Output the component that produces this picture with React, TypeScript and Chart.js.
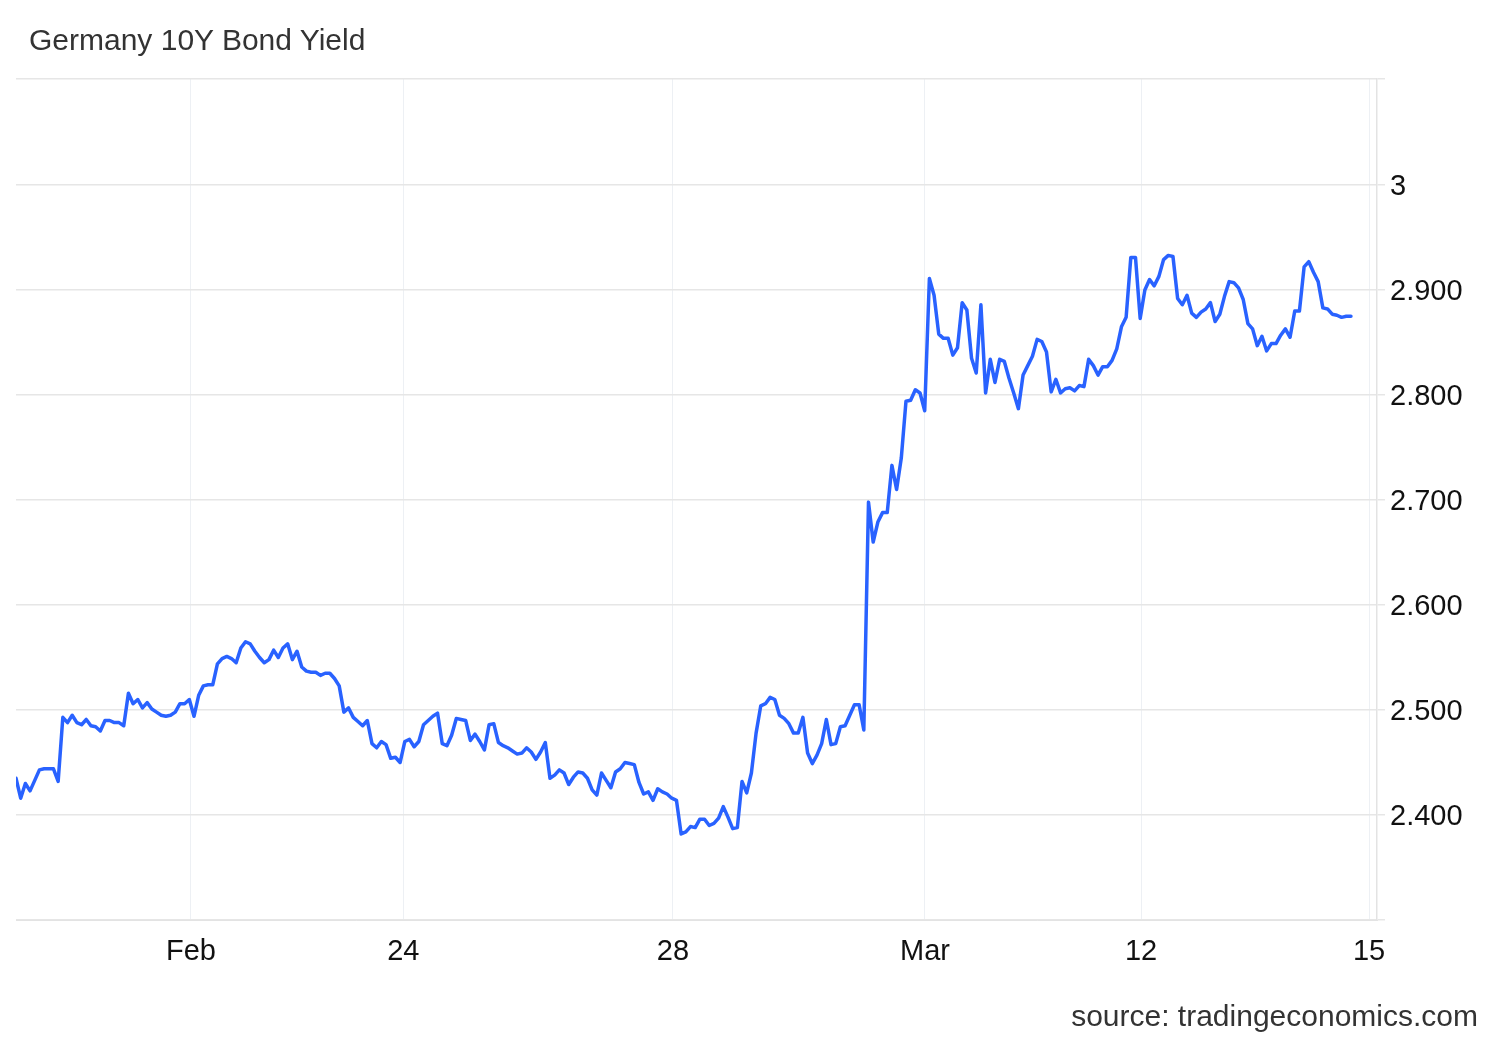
import React, { useEffect, useRef } from "react";
import { Chart, registerables } from "chart.js";

Chart.register(...registerables);

const titleText = "Germany 10Y Bond Yield";
const sourceText = "source: tradingeconomics.com";

// Yield samples (evenly spaced intraday observations), in percent
const yieldsLate = [
  2.435, 2.416, 2.430, 2.423, 2.433, 2.443, 2.444, 2.444, 2.444, 2.432,
  2.493, 2.488, 2.495, 2.488, 2.486, 2.491, 2.485, 2.484, 2.480, 2.490,
  2.490, 2.488, 2.488, 2.485, 2.516, 2.506, 2.510, 2.502, 2.507, 2.501,
  2.498, 2.495, 2.494, 2.495, 2.498, 2.506, 2.506, 2.510, 2.494, 2.514,
  2.523, 2.524, 2.524, 2.544, 2.549, 2.551, 2.549, 2.545, 2.559, 2.565,
  2.563, 2.556, 2.550, 2.545, 2.548, 2.557, 2.550, 2.559, 2.563, 2.548,
  2.556, 2.541, 2.537, 2.536, 2.536, 2.533, 2.535, 2.535, 2.530, 2.523,
  2.498, 2.502, 2.493, 2.489, 2.485, 2.490, 2.468, 2.464, 2.470, 2.467,
  2.454, 2.455, 2.450, 2.470, 2.472, 2.465, 2.470, 2.486, 2.490, 2.494,
  2.497, 2.468, 2.466, 2.476, 2.492, 2.491, 2.490, 2.471, 2.477, 2.470,
  2.462, 2.486, 2.487, 2.469, 2.466,
];

const yieldsMid = [
  2.464, 2.461, 2.458, 2.459, 2.464, 2.460, 2.453, 2.460, 2.469, 2.435,
  2.438, 2.443, 2.440, 2.429, 2.436, 2.441, 2.440, 2.435, 2.424, 2.419,
  2.440, 2.433, 2.426, 2.441, 2.444, 2.450, 2.449, 2.448, 2.431, 2.420,
  2.422, 2.414, 2.425, 2.422, 2.420, 2.416, 2.414, 2.382, 2.384, 2.389,
  2.388, 2.396, 2.396, 2.390, 2.392, 2.397, 2.408, 2.398, 2.387, 2.388,
  2.432, 2.421, 2.440, 2.478, 2.504, 2.506, 2.512, 2.510, 2.495, 2.492,
  2.487, 2.478, 2.478, 2.493, 2.459, 2.449, 2.457, 2.468, 2.491, 2.467,
  2.468, 2.484, 2.485, 2.495, 2.505, 2.505, 2.481,
];

const yieldsJump = [
  2.698, 2.660, 2.679, 2.688, 2.688, 2.733, 2.710, 2.740, 2.794, 2.795,
  2.805, 2.802, 2.785,
];

const yieldsRecent = [
  2.911, 2.895, 2.858, 2.854, 2.854, 2.838, 2.845, 2.888, 2.881, 2.835,
  2.821, 2.886, 2.802, 2.834, 2.812, 2.834, 2.832, 2.816, 2.802, 2.787,
  2.819, 2.828, 2.837, 2.853, 2.851, 2.841, 2.803, 2.815, 2.802, 2.806,
  2.807, 2.804, 2.809, 2.808, 2.834, 2.828, 2.819, 2.827, 2.827, 2.833,
  2.844, 2.865, 2.874, 2.931, 2.931, 2.873, 2.900, 2.910, 2.904, 2.913,
  2.929, 2.933, 2.932, 2.892, 2.886, 2.895, 2.878, 2.874, 2.879, 2.882,
  2.888, 2.870, 2.877, 2.894, 2.908, 2.907, 2.902, 2.891, 2.868, 2.863,
  2.847, 2.856, 2.842, 2.849, 2.849, 2.857, 2.863, 2.855, 2.880, 2.880,
  2.922, 2.927, 2.917, 2.908, 2.883, 2.882, 2.877, 2.876, 2.874, 2.875,
  2.875,
];

const yields = [...yieldsLate, ...yieldsMid, ...yieldsJump, ...yieldsRecent];

// x axis (sample index units)
const xTickPositions = [37.36, 82.69, 140.26, 194.06, 240.18, 288.86];
const xTickLabels = ["Feb", "24", "28", "Mar", "12", "15"];
const xMin = 0;
const xMax = 290.56;

// y axis
const yTickValues = [2.4, 2.5, 2.6, 2.7, 2.8, 2.9, 3.0];
const yTickLabels = ["2.400", "2.500", "2.600", "2.700", "2.800", "2.900", "3"];
const yMin = 2.3;
const yMax = 3.101;

const FONT = '"Liberation Sans", Arial, Helvetica, sans-serif';

export default function App() {
  const canvasRef = useRef<HTMLCanvasElement | null>(null);

  useEffect(() => {
    const canvas = canvasRef.current;
    if (!canvas) return;
    const chart = new Chart(canvas, {
      type: "line",
      data: {
        datasets: [
          {
            data: yields.map((v, i) => ({ x: i, y: v })),
            borderColor: "#2962ff",
            borderWidth: 3.5,
            pointRadius: 0,
            tension: 0,
            fill: false,
            borderJoinStyle: "round",
            borderCapStyle: "round",
          },
        ],
      },
      options: {
        animation: false,
        responsive: false,
        devicePixelRatio: 1,
        layout: { padding: { left: 16, top: 79, right: 0, bottom: 0 } },
        plugins: {
          legend: { display: false },
          tooltip: { enabled: false },
          title: { display: false },
        },
        scales: {
          x: {
            type: "linear",
            min: xMin,
            max: xMax,
            afterBuildTicks: (scale: any) => {
              scale.ticks = xTickPositions.map((v) => ({ value: v }));
            },
            afterFit: (scale: any) => {
              scale.height = 120;
            },
            grid: {
              color: "#edf0f4",
              lineWidth: 1,
              drawTicks: false,
            },
            border: { display: true, color: "#e3e3e3", width: 1 },
            ticks: {
              autoSkip: false,
              maxRotation: 0,
              padding: 15,
              color: "#111111",
              font: { family: FONT, size: 29 },
              callback: (_v: any, i: number) => xTickLabels[i],
            },
          },
          y: {
            type: "linear",
            position: "right",
            min: yMin,
            max: yMax,
            afterBuildTicks: (scale: any) => {
              scale.ticks = [yMin, ...yTickValues, yMax].map((v) => ({ value: v }));
            },
            afterFit: (scale: any) => {
              scale.width = 123;
            },
            grid: {
              color: "#e6e6e6",
              lineWidth: 1.5,
              drawTicks: true,
              tickLength: 8,
            },
            border: { display: true, color: "#e3e3e3", width: 1.5 },
            ticks: {
              autoSkip: false,
              padding: 5,
              labelOffset: 2,
              color: "#111111",
              font: { family: FONT, size: 29 },
              callback: (v: any) => {
                const i = yTickValues.indexOf(Number(v));
                return i >= 0 ? yTickLabels[i] : "";
              },
            },
          },
        },
      },
    });
    return () => chart.destroy();
  }, []);

  return (
    <div
      style={{
        position: "fixed",
        left: 0,
        top: 0,
        width: 1500,
        height: 1040,
        background: "#ffffff",
        fontFamily: FONT,
      }}
    >
      <canvas ref={canvasRef} width={1500} height={1040} style={{ position: "absolute", left: 0, top: 0 }} />
      <div
        style={{
          position: "absolute",
          left: 29,
          top: 25,
          fontSize: 30,
          lineHeight: "30px",
          color: "#333333",
          whiteSpace: "nowrap",
        }}
      >
        {titleText}
      </div>
      <div
        style={{
          position: "absolute",
          right: 22,
          top: 1001,
          fontSize: 30,
          lineHeight: "30px",
          color: "#333333",
          whiteSpace: "nowrap",
        }}
      >
        {sourceText}
      </div>
    </div>
  );
}
